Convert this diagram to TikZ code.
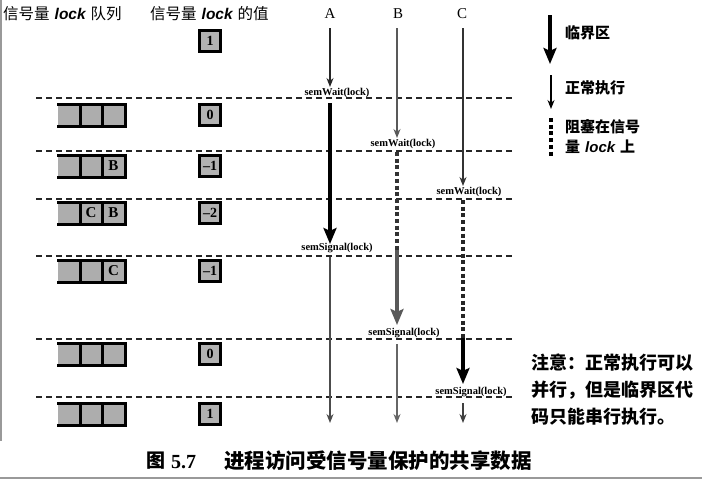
\documentclass[tikz,border=0pt]{standalone}
\usepackage{fontspec}
\setmainfont{Liberation Serif}
\newfontfamily\cjk{Noto Sans CJK SC}
\newfontfamily\lsans{Liberation Sans}
\usetikzlibrary{arrows.meta}
\newcommand\qrow[4]{%
  \fill[qfill] (58,#1-11) rectangle (125,#1+11);
  \draw[qline] (58,#1-11) -- (125,#1-11) (58,#1+11) -- (125,#1+11)
     (80,#1-11) -- (80,#1+11) (102,#1-11) -- (102,#1+11) (125,#1-11) -- (125,#1+11);
  \node[qtext] at (69,#1) {#2};
  \node[qtext] at (91,#1) {#3};
  \node[qtext] at (113.5,#1) {#4};
}
\begin{document}
\begin{tikzpicture}[x=1pt,y=-1pt,
  hline/.style={line width=1.3pt, dash pattern=on 6pt off 4pt, black!85},
  qfill/.style={fill=black!32},
  qline/.style={line width=3pt, line cap=rect, black},
  qtext/.style={inner sep=0pt, font=\bfseries\fontsize{15}{15}\selectfont},
  valbox/.style={draw, line width=2.5pt, fill=black!30, minimum width=21pt, minimum height=21pt, inner sep=0pt, font=\bfseries\fontsize{14}{14}\selectfont},
  hdr/.style={inner sep=0pt, anchor=west, font=\cjk\fontsize{15.5}{15.5}\selectfont},
  pname/.style={inner sep=0pt, font=\fontsize{15}{15}\selectfont},
  oplabel/.style={inner sep=0pt, font=\bfseries\fontsize{10.5}{10.5}\selectfont},
  thinarrow/.style={-{Stealth[length=9pt,width=7pt]}, line width=1.3pt},
  thickarrow/.style={-{Stealth[length=16pt,width=13pt,inset=3pt]}, line width=4.5pt},
  blocked/.style={line width=3.5pt, dash pattern=on 4pt off 2.7pt},
  legtext/.style={inner sep=0pt, anchor=west, font=\cjk\bfseries\fontsize{15}{15}\selectfont},
  notetext/.style={inner sep=0pt, anchor=west, font=\cjk\bfseries\fontsize{18}{18}\selectfont},
  captext/.style={inner sep=0pt, anchor=west, font=\bfseries\fontsize{20}{20}\selectfont}
]
\useasboundingbox (0,0) rectangle (702,479);
\fill[white] (0,0) rectangle (702,479);
% scan border
\draw[black!40, line width=1.5pt] (0.75,0) -- (0.75,441);
\draw[black!40, line width=1.5pt] (0,478) -- (702,478);

% headers
\node[hdr] (qh) at (3,14) {信号量\hspace{5pt}{\lsans\itshape\bfseries lock}\hspace{5pt}队列};
\node[hdr] (vh) at (150,14) {信号量\hspace{5pt}{\lsans\itshape\bfseries lock}\hspace{5pt}的值};
\node[pname] (A) at (330,14) {A};
\node[pname] (B) at (398,14) {B};
\node[pname] (C) at (462,14) {C};

% dashed separators
\foreach \y in {98,151,199,256,339,397} \draw[hline] (36,\y) -- (512,\y);

% queues
\qrow{115}{}{}{}
\qrow{166}{}{}{B}
\qrow{213}{}{C}{B}
\qrow{271}{}{}{C}
\qrow{354}{}{}{}
\qrow{414}{}{}{}

% values
\node[valbox] (v1) at (210,41) {1};
\node[valbox] (v2) at (210,115) {0};
\node[valbox] (v3) at (210,166) {--1};
\node[valbox] (v4) at (210,213) {--2};
\node[valbox] (v5) at (210,271) {--1};
\node[valbox] (v6) at (210,354) {0};
\node[valbox] (v7) at (210,414) {1};

% operation labels
\node[oplabel] (wA) at (337,93) {semWait(lock)};
\node[oplabel] (sA) at (337,248) {semSignal(lock)};
\node[oplabel] (wB) at (403,144) {semWait(lock)};
\node[oplabel] (sB) at (404,333) {semSignal(lock)};
\node[oplabel] (wC) at (469,192) {semWait(lock)};
\node[oplabel] (sC) at (471,392) {semSignal(lock)};

% process A
\coordinate (a0) at (330,28);  \coordinate (a1) at (330,87);
\coordinate (a2) at (330,103); \coordinate (a3) at (330,244);
\coordinate (a4) at (330,257); \coordinate (a5) at (330,423);
\draw[thinarrow, black!85] (a0) -- (a1);
\draw[thickarrow, black] (a2) -- (a3);
\draw[thinarrow, black!70] (a4) -- (a5);

% process B
\coordinate (b0) at (397,28);  \coordinate (b1) at (397,138);
\coordinate (b2) at (397,152); \coordinate (b3) at (397,250);
\coordinate (b4) at (397,325); \coordinate (b5) at (397,344);
\coordinate (b6) at (397,423);
\draw[thinarrow, black!65] (b0) -- (b1);
\draw[blocked, black!80] (b2) -- (b3);
\draw[thickarrow, black!65] (b3) -- (b4);
\draw[thinarrow, black!60] (b5) -- (b6);

% process C
\coordinate (c0) at (463,28);  \coordinate (c1) at (463,186);
\coordinate (c2) at (463,200); \coordinate (c3) at (463,338);
\coordinate (c4) at (463,384); \coordinate (c5) at (463,403);
\coordinate (c6) at (463,423);
\draw[thinarrow, black!80] (c0) -- (c1);
\draw[blocked, black!85] (c2) -- (c3);
\draw[thickarrow, black] (c3) -- (c4);
\draw[thinarrow, black!75] (c5) -- (c6);

% legend
\coordinate (l0) at (550,15);  \coordinate (l1) at (550,64);
\coordinate (l2) at (551,75);  \coordinate (l3) at (551,109);
\coordinate (l4) at (551,118); \coordinate (l5) at (551,157);
\draw[thickarrow, black] (l0) -- (l1);
\draw[thinarrow, black] (l2) -- (l3);
\draw[blocked, black] (l4) -- (l5);
\node[legtext] (lg1) at (565,33) {临界区};
\node[legtext] (lg2) at (565,88) {正常执行};
\node[legtext] (lg3) at (565,127) {阻塞在信号};
\node[legtext] (lg4) at (565,147) {量\hspace{5pt}{\lsans\itshape\bfseries lock}\hspace{5pt}上};

% note
\node[notetext] (n1) at (531,363) {注意：正常执行可以};
\node[notetext] (n2) at (531,390) {并行，但是临界区代};
\node[notetext] (n3) at (531,417) {码只能串行执行。};

% caption
\node[captext, font=\cjk\bfseries\fontsize{19}{19}\selectfont] (cp1) at (146,461) {图};
\node[captext] (cp2) at (171,462) {5.7};
\node[captext, font=\cjk\bfseries\fontsize{20.5}{20.5}\selectfont] (cp3) at (224,461) {进程访问受信号量保护的共享数据};
\end{tikzpicture}
\end{document}
